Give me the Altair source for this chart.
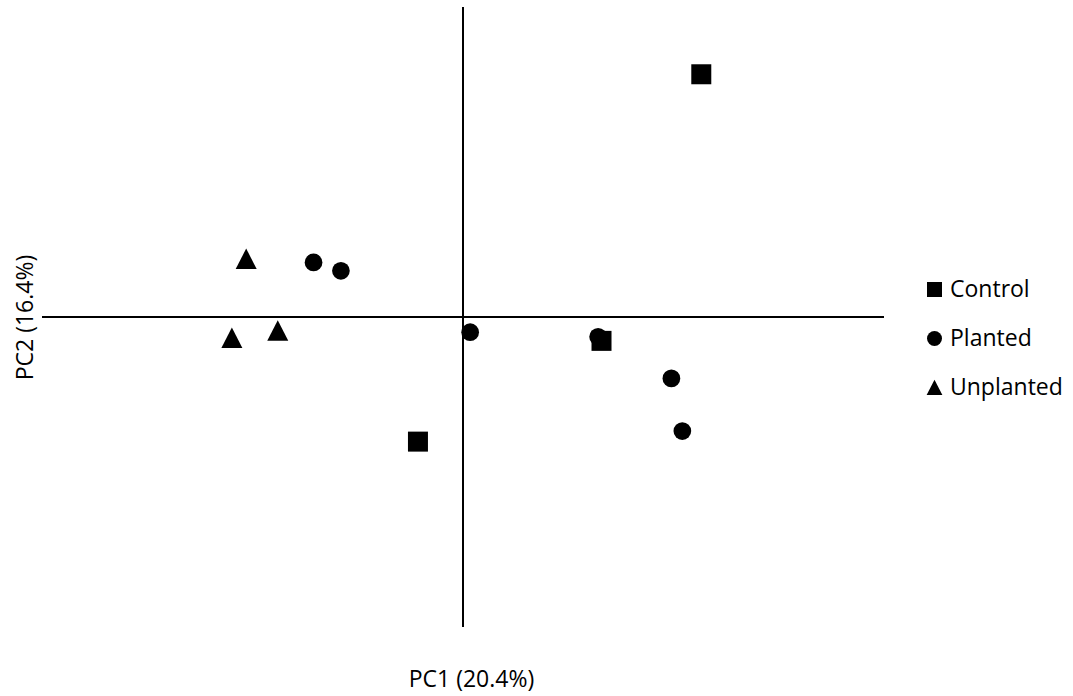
import altair as alt
import pandas as pd

groups = ["Control", "Control", "Control",
          "Planted", "Planted", "Planted", "Planted", "Planted", "Planted",
          "Unplanted", "Unplanted", "Unplanted"]
pc1 = [0.566, 0.329, -0.107,
       -0.355, -0.290, 0.017, 0.321, 0.495, 0.521,
       -0.515, -0.549, -0.440]
pc2 = [0.783, -0.077, -0.402,
       0.176, 0.149, -0.049, -0.064, -0.198, -0.368,
       0.187, -0.068, -0.044]

df = pd.DataFrame({"group": groups, "PC1": pc1, "PC2": pc2})

FONT = "Open Sans"
TRI = "M0,-1.05L1.05,1L-1.05,1Z"

xs = alt.Scale(domain=[-1, 1], nice=False, zero=False)
ys = alt.Scale(domain=[-1, 1], nice=False, zero=False)

xaxis = alt.Axis(
    title="PC1 (20.4%)", domain=False, ticks=False, labels=False, grid=False,
    titleFont=FONT, titleFontSize=23, titleFontWeight="normal", titleColor="black",
    titleX=429, titleY=59, titleBaseline="alphabetic", titleAlign="center")
yaxis = alt.Axis(
    title="PC2 (16.4%)", domain=False, ticks=False, labels=False, grid=False,
    titleFont=FONT, titleFontSize=23, titleFontWeight="normal", titleColor="black",
    titleX=-10, titleY=310, titleBaseline="alphabetic", titleAngle=-90, titleAlign="center")

vline = alt.Chart(df).mark_rule(color="black", strokeWidth=1.6).encode(
    x=alt.datum(0, scale=xs),
)
hline = alt.Chart(df).mark_rule(color="black", strokeWidth=1.6).encode(
    y=alt.datum(0, scale=ys),
)

points = alt.Chart(df).mark_point(filled=True, opacity=1, color="black", strokeWidth=0).encode(
    x=alt.X("PC1:Q", scale=xs, axis=xaxis),
    y=alt.Y("PC2:Q", scale=ys, axis=yaxis),
    shape=alt.Shape("group:N", scale=alt.Scale(
        domain=["Control", "Planted", "Unplanted"], range=["square", "circle", TRI]),
        legend=alt.Legend(title=None, orient="none", legendX=881, legendY=271,
                          labelFont=FONT, labelFontSize=23, labelColor="black",
                          symbolSize=225, symbolFillColor="black", symbolStrokeWidth=0,
                          symbolOpacity=1, labelOffset=4, rowPadding=25, padding=0)),
    size=alt.condition(alt.datum.group == "Planted", alt.value(314), alt.value(400)),
)

chart = alt.layer(vline, hline, points).properties(
    width=842, height=620,
    padding={"left": 42, "top": 7, "right": 189, "bottom": 69},
    autosize=alt.AutoSizeParams(type="none"),
).configure(background="white").configure_view(strokeWidth=0)

chart.save("out.html", embed_options={"renderer": "svg", "actions": False})
